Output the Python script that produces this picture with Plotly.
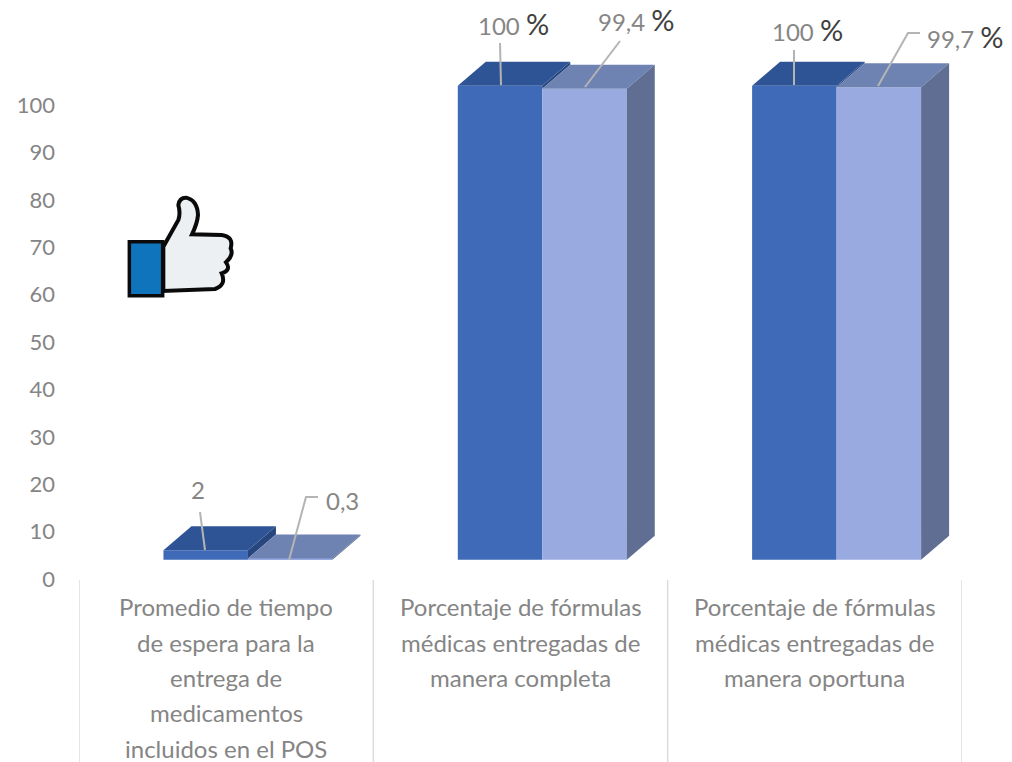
import plotly.graph_objects as go

# ---- data ----
cat_lines = [
    ["Promedio de tiempo", "de espera para la", "entrega de", "medicamentos", "incluidos en el POS"],
    ["Porcentaje de fórmulas", "médicas entregadas de", "manera completa"],
    ["Porcentaje de fórmulas", "médicas entregadas de", "manera oportuna"],
]
cat_pos = [0.5, 1.5, 2.5]
series_a = [2, 100, 100]
series_b = [0.3, 99.4, 99.7]
labels_a = ["2", "100", "100"]
labels_b = ["0,3", "99,4", "99,7"]
suffix = ["", " %", " %"]
y_ticks = list(range(0, 101, 10))

# ---- geometry / style ----
W, H = 1012, 762
L, R_PX, T_PX, B_PX = 79, 962, 1, 579
PX_PER_UNIT = 4.74
PX_PER_CAT = (R_PX - L) / 3
BAR_W = 84.5 / PX_PER_CAT
SPLIT = 0.074           # split between both bars, relative to category centre
BASE = 19.2 / PX_PER_UNIT  # floor lift of the 3-D front faces
DX = 28 / PX_PER_CAT
DY = 24 / PX_PER_UNIT
FONT = "Lato"
GREY = "#858585"

A_FRONT, A_TOP, A_SIDE = "#3f6ab7", "#2f5496", "#27467e"
B_FRONT, B_TOP, B_SIDE = "#99aae0", "#6f83b3", "#5f6e92"


def px(x):
    return (x - L) / (R_PX - L)


def py(y):
    return (B_PX - y) / (B_PX - T_PX)


fig = go.Figure()

fig.add_bar(x=cat_pos, y=series_a, base=[BASE] * 3, width=BAR_W, offset=SPLIT - BAR_W,
            marker=dict(color=A_FRONT, line_width=0), showlegend=False)
fig.add_bar(x=cat_pos, y=series_b, base=[BASE] * 3, width=BAR_W, offset=SPLIT,
            marker=dict(color=B_FRONT, line_width=0), showlegend=False)


def face(xs, ys, color):
    fig.add_scatter(x=xs, y=ys, mode="lines", fill="toself", fillcolor=color,
                    line=dict(width=0, color=color), hoverinfo="skip", showlegend=False)


for c, a, b in zip(cat_pos, series_a, series_b):
    x0, x1, x2 = c + SPLIT - BAR_W, c + SPLIT, c + SPLIT + BAR_W
    ta, tb = BASE + a, BASE + b
    # visible part of bar A's side, above bar B's top
    face([x1, x1 + DX, x1 + DX, x1], [tb, tb + DY, ta + DY, ta], A_SIDE)
    # tops
    face([x0, x1, x1 + DX, x0 + DX], [ta, ta, ta + DY, ta + DY], A_TOP)
    face([x1, x2, x2 + DX, x1 + DX], [tb, tb, tb + DY, tb + DY], B_TOP)
    # side of bar B
    face([x2, x2 + DX, x2 + DX, x2], [BASE, BASE + DY, tb + DY, tb], B_SIDE)

shapes = []
annotations = []

# vertical separators below the axis
for i in range(4):
    shapes.append(dict(type="line", xref="x", yref="paper", x0=i, x1=i, y0=py(580), y1=py(762),
                       line=dict(color="#dcdcdc", width=1.5)))

# category labels, one annotation per line to hold the original line pitch
line_tops = [606.5, 642, 677.5, 712.5, 748.5]
for c, lines in zip(cat_pos, cat_lines):
    for ln, yy in zip(lines, line_tops):
        annotations.append(dict(x=c, xref="x", y=py(yy), yref="paper", text=ln, showarrow=False,
                                xanchor="center", yanchor="middle",
                                font=dict(family=FONT, size=24, color=GREY)))

# data labels
label_px = [(198, 489), (342, 501), (513, 23), (636, 20), (807, 30), (965, 36)]
label_txt = []
for la, lb, s in zip(labels_a, labels_b, suffix):
    for v in (la, lb):
        if s:
            label_txt.append(f'{v} <span style="color:#404040;font-size:29px">%</span>')
        else:
            label_txt.append(v)
for (lx, ly), t in zip(label_px, label_txt):
    annotations.append(dict(x=px(lx), y=py(ly), xref="paper", yref="paper", text=t, showarrow=False,
                            xanchor="center", yanchor="middle",
                            font=dict(family=FONT, size=24, color=GREY)))

# leader lines
leaders = [
    [(200, 512), (205, 550)],
    [(318, 497), (306, 497), (289, 560)],
    [(500, 43), (501, 85)],
    [(620, 41), (585, 87)],
    [(794, 50), (794, 85)],
    [(920, 33), (908, 33), (878, 86)],
]
for pts in leaders:
    d = "M " + " L ".join(f"{px(a):.5f},{py(b):.5f}" for a, b in pts)
    shapes.append(dict(type="path", xref="paper", yref="paper", path=d,
                       line=dict(color="#b4b4b4", width=2)))


# thumbs-up icon, traced in crop coordinates of the reference
def zx(v):
    return px(110 + v / 3)


def zy(v):
    return py(185 + v / 3)


def P(a, b):
    return f"{zx(a):.5f},{zy(b):.5f}"


hand = (f"M {P(160,185)} L {P(205,105)} Q {P(212,85)} {P(205,60)} Q {P(208,38)} {P(228,38)} "
        f"Q {P(262,45)} {P(264,90)} Q {P(262,115)} {P(246,148)} L {P(335,150)} "
        f"Q {P(372,155)} {P(362,190)} Q {P(372,210)} {P(348,232)} Q {P(365,255)} {P(335,265)} "
        f"Q {P(350,300)} {P(315,312)} L {P(160,318)} Z")
shapes.append(dict(type="path", xref="paper", yref="paper", path=hand, fillcolor="#ecf0f3",
                   line=dict(color="#0a0a0a", width=4)))
shapes.append(dict(type="path", xref="paper", yref="paper",
                   path=f"M {P(58,170)} L {P(158,170)} L {P(158,332)} L {P(58,332)} Z",
                   fillcolor="#0f74bb", line=dict(color="#0a0a0a", width=3.5)))

fig.update_layout(
    width=W, height=H, autosize=False,
    margin=dict(l=L, r=W - R_PX, t=T_PX, b=H - B_PX, pad=0),
    paper_bgcolor="white", plot_bgcolor="white",
    barmode="overlay", showlegend=False,
    shapes=shapes, annotations=annotations,
    xaxis=dict(range=[0, 3], showgrid=False, zeroline=False, showticklabels=False,
               ticks="", showline=False, fixedrange=True),
    yaxis=dict(range=[0, (B_PX - T_PX) / PX_PER_UNIT], tickvals=y_ticks, ticktext=[str(v) for v in y_ticks],
               showgrid=False, zeroline=False, ticks="", showline=False, fixedrange=True,
               tickfont=dict(family=FONT, size=22, color=GREY), ticklabelstandoff=23),
)

fig.write_html("out.html", config={"displayModeBar": False},
               post_script="document.body.style.margin='0';document.documentElement.style.overflow='hidden';")
